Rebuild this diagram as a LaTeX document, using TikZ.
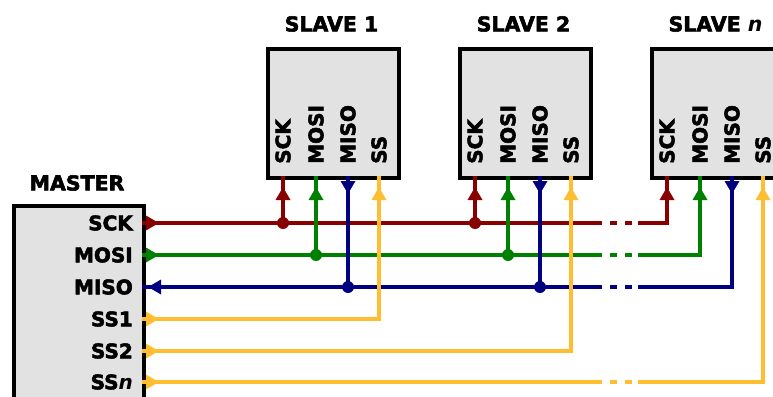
\documentclass[tikz,border=0pt]{standalone}
\usepackage{fontspec}
\setmainfont{DejaVu Sans}[BoldFeatures={FakeBold=2.6}]
\usetikzlibrary{arrows.meta,decorations.markings}
\definecolor{sckc}{RGB}{136,0,0}
\definecolor{mosic}{RGB}{0,128,0}
\definecolor{misoc}{RGB}{0,0,128}
\definecolor{ssc}{RGB}{255,190,50}
\definecolor{boxfill}{RGB}{226,226,226}
\tikzset{
  chip/.style={draw=black, line width=3.6pt, fill=boxfill, inner sep=0pt},
  title/.style={font=\fontsize{20.5}{24}\selectfont\bfseries, inner sep=0pt},
  pinlbl/.style={font=\fontsize{20}{24}\selectfont\bfseries, inner sep=0pt},
  wire/.style={line width=4.4pt},
  tri/.tip={Triangle[length=13pt,width=14pt]},
  tip/.style={decoration={markings, mark=at position #1 with {\arrow{tri}}}, postaction={decorate}},
  twotips/.style 2 args={decoration={markings,
      mark=at position #1 with {\arrow{tri}},
      mark=at position #2 with {\arrow{tri}}}, postaction={decorate}},
  fwdgap/.style={dash pattern=on 460pt off 8pt on 7pt off 8pt on 7pt off 6pt on 2000pt},
  revgap/.style={dash pattern=on 205pt off 6pt on 7pt off 8pt on 7pt off 8pt on 2000pt},
}
\begin{document}
\begin{tikzpicture}[x=1pt,y=-1pt]
\useasboundingbox (0,0) rectangle (773,396);
\clip (0,0) rectangle (773,396);

% chips
\node[chip, minimum width=130pt, minimum height=230pt, anchor=north west] (master) at (12,204) {};
\node[chip, minimum width=131pt, minimum height=129pt, anchor=north west] (s1) at (266,47) {};
\node[chip, minimum width=131pt, minimum height=129pt, anchor=north west] (s2) at (458,47) {};
\node[chip, minimum width=131pt, minimum height=129pt, anchor=north west] (sn) at (650,47) {};

% titles
\node[title] (tm) at (77,183) {MASTER};
\node[title] (t1) at (331.5,24) {SLAVE 1};
\node[title] (t2) at (523.5,24) {SLAVE 2};
\node[title] (tn) at (715.5,24) {SLAVE \textit{n}};

% master pins
\coordinate (m-sck) at (142,223);
\coordinate (m-mosi) at (142,255);
\coordinate (m-miso) at (142,287);
\coordinate (m-ss1) at (142,319);
\coordinate (m-ss2) at (142,351);
\coordinate (m-ssn) at (142,382);
\node[pinlbl, anchor=east] (lm1) at (133,223) {SCK};
\node[pinlbl, anchor=east] (lm2) at (133,255) {MOSI};
\node[pinlbl, anchor=east] (lm3) at (133,287) {MISO};
\node[pinlbl, anchor=east] (lm4) at (133,319) {SS1};
\node[pinlbl, anchor=east] (lm5) at (133,351) {SS2};
\node[pinlbl, anchor=east] (lm6) at (133,382) {SS\textit{n}};

% slave pins and labels
\foreach \s/\x in {s1/266, s2/458, sn/650} {
  \coordinate (\s-sck) at (\x+17,176);
  \coordinate (\s-mosi) at (\x+50,176);
  \coordinate (\s-miso) at (\x+82,176);
  \coordinate (\s-ss) at (\x+113,176);
  \node[pinlbl, rotate=90, anchor=west] (\s-l1) at (\x+17,164) {SCK};
  \node[pinlbl, rotate=90, anchor=west] (\s-l2) at (\x+50,164) {MOSI};
  \node[pinlbl, rotate=90, anchor=west] (\s-l3) at (\x+82,164) {MISO};
  \node[pinlbl, rotate=90, anchor=west] (\s-l4) at (\x+113,164) {SS};
}

% SCK
\draw[wire, sckc, fwdgap, twotips={17pt}{-11pt}]
  (m-sck) -- (sn-sck |- m-sck) -- (sn-sck);
\foreach \s in {s1,s2} {
  \draw[wire, sckc, tip=-11pt] (\s-sck |- m-sck) -- (\s-sck);
  \fill[sckc] (\s-sck |- m-sck) circle (6pt);
}
% MOSI
\draw[wire, mosic, fwdgap, twotips={17pt}{-11pt}]
  (m-mosi) -- (sn-mosi |- m-mosi) -- (sn-mosi);
\foreach \s in {s1,s2} {
  \draw[wire, mosic, tip=-11pt] (\s-mosi |- m-mosi) -- (\s-mosi);
  \fill[mosic] (\s-mosi |- m-mosi) circle (6pt);
}
% MISO
\draw[wire, misoc, revgap, twotips={18pt}{-6pt}]
  (sn-miso) -- (sn-miso |- m-miso) -- (m-miso);
\foreach \s in {s1,s2} {
  \draw[wire, misoc, tip=18pt] (\s-miso) -- (\s-miso |- m-miso);
  \fill[misoc] (\s-miso |- m-miso) circle (6pt);
}
% SS
\draw[wire, ssc, twotips={17pt}{-11pt}]
  (m-ss1) -- (s1-ss |- m-ss1) -- (s1-ss);
\draw[wire, ssc, twotips={17pt}{-11pt}]
  (m-ss2) -- (s2-ss |- m-ss2) -- (s2-ss);
\draw[wire, ssc, fwdgap, twotips={17pt}{-11pt}]
  (m-ssn) -- (sn-ss |- m-ssn) -- (sn-ss);
\end{tikzpicture}
\end{document}
